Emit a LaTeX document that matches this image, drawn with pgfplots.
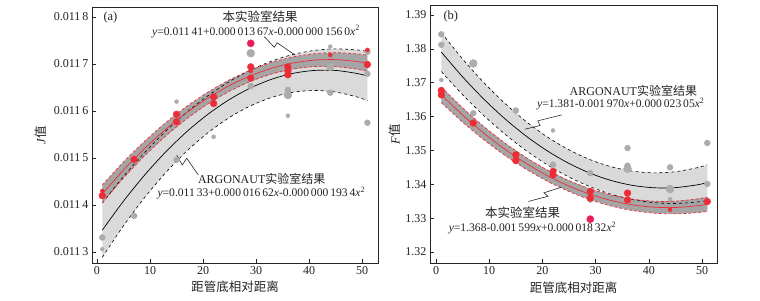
\documentclass[border=0pt]{standalone}
\usepackage{fontspec}
\setmainfont{Liberation Serif}
\newfontfamily\cjk{Noto Sans CJK SC}
\usepackage{pgfplots}
\pgfplotsset{compat=1.18}
\usepackage{pgfplotstable}
\usepgfplotslibrary{fillbetween}

\definecolor{lband}{RGB}{218,218,218}
\definecolor{dband}{RGB}{165,165,165}
\definecolor{gptc}{RGB}{172,172,172}
\definecolor{rptc}{RGB}{236,45,55}
\definecolor{mptc}{RGB}{232,30,90}
\definecolor{txt}{RGB}{35,35,35}

% x, lab fit, lab upper, lab lower, ARGONAUT fit, upper, lower
\pgfplotstableread{
x lab labu labl arg argu argl
1 0.0114235 0.0114425 0.0114045 0.0113464 0.0114042 0.0112886
5 0.0114745 0.0114916 0.0114574 0.0114083 0.0114607 0.0113559
9 0.0115204 0.0115359 0.0115049 0.0114639 0.0115117 0.0114161
13 0.0115614 0.0115756 0.0115472 0.0115134 0.0115575 0.0114693
17 0.0115973 0.0116105 0.0115841 0.0115567 0.0115980 0.0115154
21 0.0116283 0.0116408 0.0116158 0.0115937 0.0116330 0.0115544
25 0.0116543 0.0116664 0.0116422 0.0116246 0.0116628 0.0115864
29 0.0116753 0.0116873 0.0116633 0.0116493 0.0116873 0.0116113
33 0.0116912 0.0117034 0.0116790 0.0116678 0.0117065 0.0116291
37 0.0117022 0.0117150 0.0116894 0.0116802 0.0117204 0.0116400
41 0.0117082 0.0117218 0.0116946 0.0116863 0.0117289 0.0116437
45 0.0117093 0.0117241 0.0116945 0.0116863 0.0117322 0.0116404
49 0.0117053 0.0117215 0.0116891 0.0116800 0.0117300 0.0116300
51 0.0117014 0.0117185 0.0116843 0.0116746 0.0117270 0.0116222
}\tabA

\pgfplotstableread{
x lab labu labl arg argu argl
1 1.366419 1.36872 1.36412 1.379053 1.38480 1.37330
5 1.360463 1.36257 1.35835 1.371726 1.37700 1.36646
9 1.355093 1.35704 1.35314 1.365137 1.37001 1.36027
13 1.350309 1.35213 1.34849 1.359286 1.36383 1.35475
17 1.346112 1.34783 1.34439 1.354172 1.35846 1.34988
21 1.342500 1.34415 1.34085 1.349795 1.35392 1.34568
25 1.339475 1.34109 1.33787 1.346156 1.35018 1.34214
29 1.337036 1.33864 1.33544 1.343255 1.34726 1.33926
33 1.335184 1.33680 1.33356 1.341092 1.34515 1.33703
37 1.333917 1.33560 1.33224 1.339665 1.34386 1.33548
41 1.333237 1.33500 1.33148 1.338977 1.34339 1.33457
45 1.333143 1.33502 1.33126 1.339026 1.34372 1.33434
49 1.333635 1.33566 1.33162 1.339812 1.34487 1.33475
51 1.334101 1.33621 1.33199 1.340483 1.34575 1.33521
}\tabB

\newcommand{\fs}{\fontsize{12bp}{14bp}\selectfont}
\newcommand{\fe}{\fontsize{11.6bp}{13bp}\selectfont}

\pgfplotsset{
  myax/.style={
    scale only axis,
    anchor=south west,
    scaled x ticks=false, scaled y ticks=false,
    axis line style={line width=0.6pt, black!85},
    tick style={line width=0.5pt, black!85},
    tick align=inside,
    xtick pos=left, ytick pos=left,
    major tick length=4bp,
    tick label style={font=\fs, text=txt},
    /pgf/number format/assume math mode=true,
    xtick={0,10,20,30,40,50},
    xlabel={{\cjk\fontsize{12.5bp}{14bp}\selectfont 距管底相对距离}},
    xlabel style={at={(axis description cs:0.5,-0.094)}, anchor=center, text=txt},
    label style={text=txt},
  },
  gbig/.style={only marks, mark=*, mark size=4pt, color=gptc, mark options={draw=none, fill=gptc}},
  gmed/.style={only marks, mark=*, mark size=3pt, color=gptc, mark options={draw=none, fill=gptc}},
  gsml/.style={only marks, mark=*, mark size=2pt, color=gptc, mark options={draw=none, fill=gptc}},
  rmed/.style={only marks, mark=*, mark size=3.4pt, color=rptc, mark options={draw=none, fill=rptc}},
  rsml/.style={only marks, mark=*, mark size=2pt, color=rptc, mark options={draw=none, fill=rptc}},
  mag/.style={only marks, mark=*, mark size=3.6pt, color=mptc, mark options={draw=none, fill=mptc}},
}

\begin{document}
\begin{tikzpicture}

% ---------------- panel (a) ----------------
\begin{axis}[myax,
  at={(92bp,38bp)}, width=286bp, height=256bp,
  xmin=-0.94, xmax=53.0, ymin=0.0112766, ymax=0.0118213,
  ytick={0.0113,0.0114,0.0115,0.0116,0.0117,0.0118},
  yticklabels={0.011\,3,0.011\,4,0.011\,5,0.011\,6,0.011\,7,0.011\,8},
  ylabel={\fontsize{12.5bp}{14bp}\selectfont\textit{J}{\cjk 值}},
  ylabel style={at={(axis description cs:-0.18,0.5)}, anchor=center},
]
\addplot[draw=none, name path=Au] table[x=x,y=argu]{\tabA};
\addplot[draw=none, name path=Al] table[x=x,y=argl]{\tabA};
\addplot[draw=none, name path=Lu] table[x=x,y=labu]{\tabA};
\addplot[draw=none, name path=Ll] table[x=x,y=labl]{\tabA};
\addplot[lband, draw=none] fill between[of=Au and Al];
\addplot[dband, draw=none] fill between[of=Lu and Ll];
\addplot[black, dashed, line width=0.6pt, smooth] table[x=x,y=argu]{\tabA};
\addplot[black, dashed, line width=0.6pt, smooth] table[x=x,y=argl]{\tabA};
\addplot[black, line width=0.7pt, smooth] table[x=x,y=arg]{\tabA};
\addplot[rptc, densely dashed, line width=0.7pt, smooth] table[x=x,y=labu]{\tabA};
\addplot[rptc, densely dashed, line width=0.7pt, smooth] table[x=x,y=labl]{\tabA};
\addplot[rptc, line width=0.7pt, smooth] table[x=x,y=lab]{\tabA};
% ARGONAUT data
\addplot[gbig] coordinates {(29,0.011723) (36,0.011634) (44,0.011694)};
\addplot[gmed] coordinates {(1,0.011331) (7,0.011377) (15,0.011496) (29,0.011653) (36,0.011645) (44,0.011639) (51,0.011726) (51,0.011679) (51,0.011575)};
\addplot[gsml] coordinates {(1,0.011306) (15,0.01162) (22,0.011545) (36,0.01159) (44,0.011737)};
% lab data
\addplot[rmed] coordinates {(1,0.01142) (7,0.011497) (15,0.011593) (15,0.011577) (22,0.01163) (22,0.011616) (29,0.011694) (29,0.01167) (36,0.011694) (36,0.011685) (36,0.011677) (51,0.011699)};
\addplot[rsml] coordinates {(1,0.01143) (44,0.011719) (51,0.01173) (29,0.011685)};
\addplot[mag] coordinates {(29,0.011744)};

\node[anchor=west, text=txt, font=\fontsize{12.5bp}{14bp}\selectfont] at (axis cs:0.57,0.011798) {(a)};
\node[text=txt, font=\cjk\fontsize{12.5bp}{14bp}\selectfont] at (axis cs:30.75,0.0118) {本实验室结果};
\node[text=txt, font=\fe] at (axis cs:30.0,0.011769) {\textit{y}=0.011\,41+0.000\,013\,67\textit{x}-0.000\,000\,156\,0\textit{x}\textsuperscript{2}};
\draw[black!85, line width=0.6pt] (axis cs:31.57,0.0117581) -- (axis cs:33.45,0.0117355) -- (axis cs:33.96,0.0117453) -- (axis cs:37.36,0.0117191);
\node[text=txt, font=\fontsize{12bp}{14bp}\selectfont] at (axis cs:31.07,0.011455) {ARGONAUT{\cjk 实验室结果}};
\node[text=txt, font=\fe] at (axis cs:31.0,0.011425) {\textit{y}=0.011\,33+0.000\,016\,62\textit{x}-0.000\,000\,193\,4\textit{x}\textsuperscript{2}};
\draw[black!85, line width=0.6pt] (axis cs:15.04,0.0115064) -- (axis cs:16.09,0.0114851) -- (axis cs:16.92,0.0114994) -- (axis cs:19.11,0.0114638);
\end{axis}

% ---------------- panel (b) ----------------
\begin{axis}[myax,
  at={(430bp,38bp)}, width=287bp, height=258bp,
  xmin=-1.13, xmax=52.82, ymin=1.31676, ymax=1.39295,
  ytick={1.32,1.33,1.34,1.35,1.36,1.37,1.38,1.39},
  yticklabels={1.32,1.33,1.34,1.35,1.36,1.37,1.38,1.39},
  ylabel={\fontsize{12.5bp}{14bp}\selectfont\textit{F}{\cjk 值}},
  ylabel style={at={(axis description cs:-0.122,0.5)}, anchor=center},
]
\addplot[draw=none, name path=Au] table[x=x,y=argu]{\tabB};
\addplot[draw=none, name path=Al] table[x=x,y=argl]{\tabB};
\addplot[draw=none, name path=Lu] table[x=x,y=labu]{\tabB};
\addplot[draw=none, name path=Ll] table[x=x,y=labl]{\tabB};
\addplot[lband, draw=none] fill between[of=Au and Al];
\addplot[dband, draw=none] fill between[of=Lu and Ll];
\addplot[black, dashed, line width=0.6pt, smooth] table[x=x,y=argu]{\tabB};
\addplot[black, dashed, line width=0.6pt, smooth] table[x=x,y=argl]{\tabB};
\addplot[black, line width=0.7pt, smooth] table[x=x,y=arg]{\tabB};
\addplot[rptc, densely dashed, line width=0.7pt, smooth] table[x=x,y=labu]{\tabB};
\addplot[rptc, densely dashed, line width=0.7pt, smooth] table[x=x,y=labl]{\tabB};
\addplot[rptc, line width=0.7pt, smooth] table[x=x,y=lab]{\tabB};
% ARGONAUT data
\addplot[gbig] coordinates {(7,1.3757) (36,1.3446) (44,1.3386)};
\addplot[gmed] coordinates {(1,1.3843) (1,1.3812) (7,1.361) (15,1.3618) (22,1.3458) (29,1.3433) (36,1.3507) (36,1.3455) (44,1.345) (51,1.3522) (51,1.3401) (29,1.3355)};
\addplot[gsml] coordinates {(1,1.3708) (22,1.3559) (44,1.3356)};
% lab data
\addplot[rmed] coordinates {(1,1.3677) (1,1.3664) (7,1.3581) (15,1.3487) (15,1.347) (22,1.3438) (22,1.3428) (29,1.3379) (29,1.3359) (36,1.3374) (36,1.3354) (51,1.3349)};
\addplot[rsml] coordinates {(44,1.3325) (29,1.337)};
\addplot[mag] coordinates {(29,1.3297)};

\node[anchor=west, text=txt, font=\fontsize{12.5bp}{14bp}\selectfont] at (axis cs:0.75,1.3895) {(b)};
\node[text=txt, font=\fontsize{12bp}{14bp}\selectfont] at (axis cs:37.1,1.36767) {ARGONAUT{\cjk 实验室结果}};
\node[text=txt, font=\fe] at (axis cs:34.74,1.36375) {\textit{y}=1.381-0.001\,970\textit{x}+0.000\,023\,05\textit{x}\textsuperscript{2}};
\draw[black!85, line width=0.6pt] (axis cs:23.63,1.3605) -- (axis cs:19.12,1.35873) -- (axis cs:19.55,1.35735) -- (axis cs:16.73,1.35628);
\node[text=txt, font=\cjk\fontsize{12.5bp}{14bp}\selectfont] at (axis cs:16.26,1.3315) {本实验室结果};
\node[text=txt, font=\fe] at (axis cs:18.14,1.32708) {\textit{y}=1.368-0.001\,599\textit{x}+0.000\,018\,32\textit{x}\textsuperscript{2}};
\draw[black!85, line width=0.6pt] (axis cs:23.63,1.33917) -- (axis cs:20.30,1.33749) -- (axis cs:21.05,1.33646) -- (axis cs:17.35,1.33493);
\end{axis}
\pgfresetboundingbox
\useasboundingbox (0,0) rectangle (760bp,301bp);
\end{tikzpicture}
\end{document}
